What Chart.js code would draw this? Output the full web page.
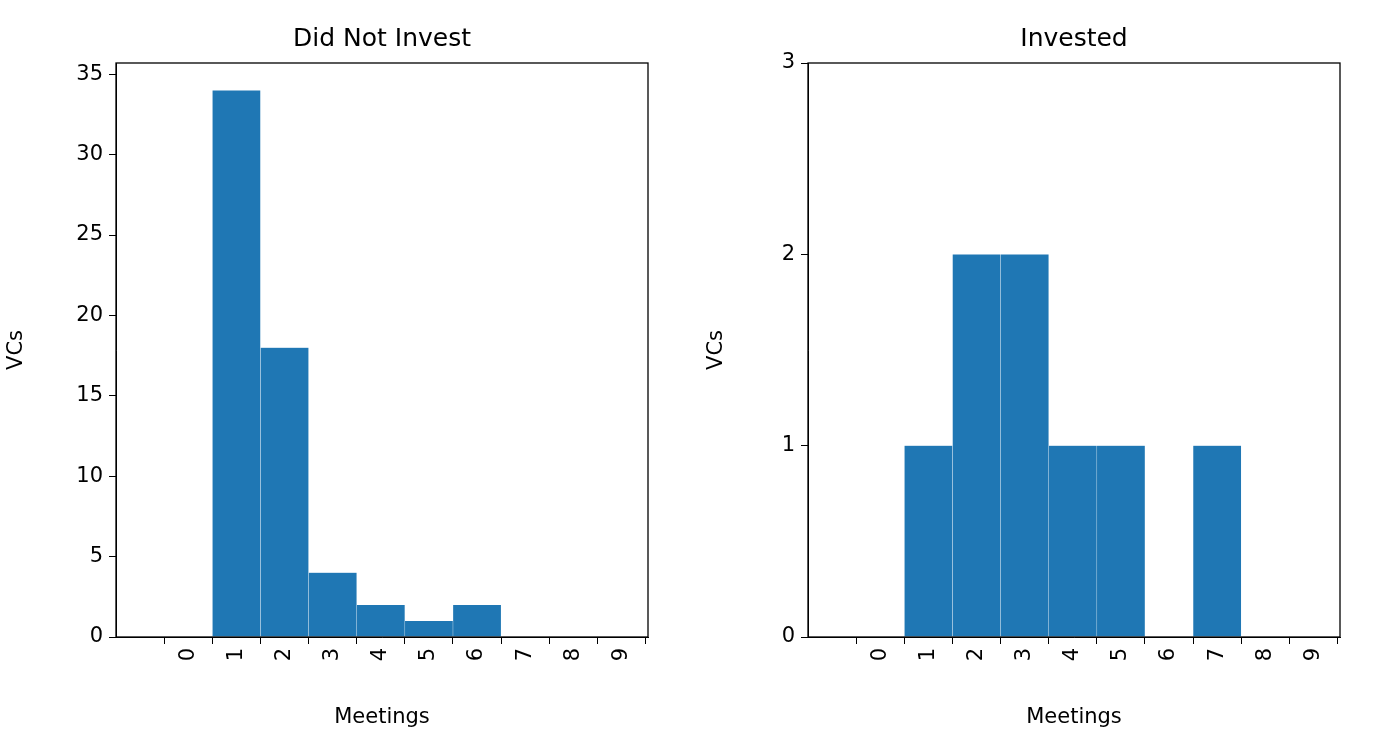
<!DOCTYPE html>
<html><head><meta charset="utf-8">
<script src="https://cdn.jsdelivr.net/npm/chart.js@4"></script>
<style>
body{margin:0;background:#fff;width:1400px;height:734px;overflow:hidden}
.box{position:absolute;top:0;width:700px;height:734px}
</style></head><body>
<div class="box" style="left:0"><canvas id="left"></canvas></div>
<div class="box" style="left:700px"><canvas id="right"></canvas></div>
<script>
const meetings = [1, 2, 3, 4, 5, 6, 7];
const didNotInvest = [34, 18, 4, 2, 1, 2, 0];
const invested = [1, 2, 2, 1, 1, 0, 1];
const xTicks = [0, 1, 2, 3, 4, 5, 6, 7, 8, 9];

const FONT = 'DejaVu Sans';
Chart.defaults.font.family = FONT;
Chart.defaults.color = '#000';

const frame = {
  id: 'frame',
  afterDraw(c, args, opts) {
    const a = c.chartArea, x = c.ctx;
    x.save();
    x.strokeStyle = '#000'; x.lineWidth = 1.3;
    x.strokeRect(a.left, a.top, a.right - a.left, a.bottom - a.top);
    x.font = '25px ' + FONT; x.fillStyle = '#000';
    x.textAlign = 'center'; x.textBaseline = 'alphabetic';
    x.fillText(opts.text, (a.left + a.right) / 2, 46);
    x.restore();
  }
};

function makeChart(id, values, yMax, yStep, areaLeft, padRight, title) {
  new Chart(document.getElementById(id), {
    type: 'bar',
    data: {
      datasets: [{
        data: meetings.map((m, i) => ({ x: m, y: values[i] })),
        backgroundColor: '#1f77b4',
        borderColor: 'rgba(255,255,255,0.15)',
        borderWidth: 0.5,
        barPercentage: 1, categoryPercentage: 1
      }]
    },
    options: {
      responsive: false, animation: false,
      layout: { padding: { left: 0, right: padRight, top: 63, bottom: 0 } },
      plugins: { legend: { display: false }, tooltip: { enabled: false }, frame: { text: title } },
      scales: {
        x: {
          type: 'linear', min: -0.95, max: 9,
          afterBuildTicks: s => { s.ticks = xTicks.map(v => ({ value: v })); },
          afterFit: s => { s.height = 97; },
          grid: { drawOnChartArea: false, tickLength: 7, color: '#000' },
          border: { color: '#000' },
          ticks: { minRotation: 90, maxRotation: 90, font: { size: 21 }, padding: 4 },
          title: { display: true, text: 'Meetings', font: { size: 21 }, padding: { top: 0 } }
        },
        y: {
          min: 0, max: yMax,
          afterBuildTicks: s => {
            const t = [];
            for (let v = 0; v <= yMax + 1e-9; v += yStep) t.push({ value: v });
            s.ticks = t;
          },
          afterFit: s => { s.width = areaLeft; },
          grid: { drawOnChartArea: false, tickLength: 7, color: '#000' },
          border: { color: '#000' },
          ticks: { font: { size: 21 }, padding: 6 },
          title: { display: true, text: 'VCs', font: { size: 21 }, padding: { bottom: 4 } }
        }
      }
    },
    plugins: [frame]
  });
}

document.getElementById('left').width = 700; document.getElementById('left').height = 734;
document.getElementById('right').width = 700; document.getElementById('right').height = 734;
makeChart('left', didNotInvest, 35.7, 5, 116, 52, 'Did Not Invest');
makeChart('right', invested, 3, 1, 108, 60, 'Invested');
</script>
</body></html>
